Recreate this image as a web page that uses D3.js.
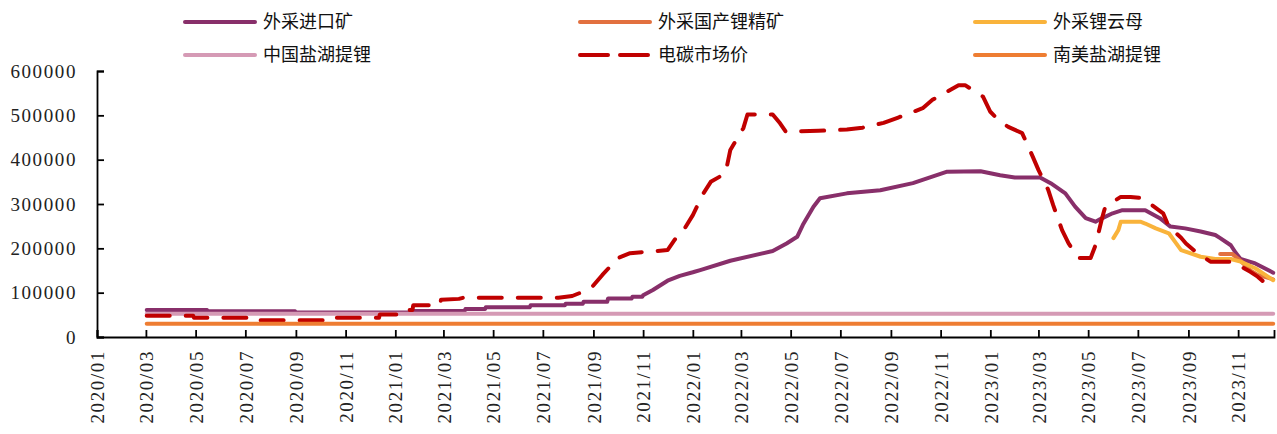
<!DOCTYPE html>
<html>
<head>
<meta charset="utf-8">
<script src="https://cdn.jsdelivr.net/npm/d3@7"></script>
<style>
  body { margin: 0; background: #fff; }
  .tick text { font-family: "Liberation Serif", "Times New Roman", serif; }
</style>
</head>
<body>
<svg id="chart" width="1277" height="434"></svg>
<script>
// series: [date, value]
const importOre = [
  ["2020-03-02", 61000], ["2020-05-15", 61000], ["2020-05-16", 58000], ["2020-08-31", 58000],
  ["2020-09-01", 55000], ["2021-01-21", 55000], ["2021-01-22", 58500], ["2021-03-27", 58500],
  ["2021-03-28", 63000], ["2021-04-21", 63000], ["2021-04-22", 67000], ["2021-06-15", 67000],
  ["2021-06-16", 71500], ["2021-07-28", 71500], ["2021-07-29", 75000], ["2021-08-19", 75000],
  ["2021-08-20", 79500], ["2021-09-18", 79500], ["2021-09-19", 87000], ["2021-10-18", 87000],
  ["2021-10-19", 91000], ["2021-10-31", 91000], ["2021-11-01", 94000], ["2021-11-13", 106000],
  ["2021-12-01", 127000], ["2021-12-16", 138000], ["2022-01-01", 146000], ["2022-01-10", 151000],
  ["2022-02-16", 172000], ["2022-04-09", 194000], ["2022-04-26", 211000], ["2022-05-09", 226000],
  ["2022-05-16", 253000], ["2022-05-29", 294000], ["2022-06-06", 313000], ["2022-07-09", 324000],
  ["2022-08-19", 331000], ["2022-09-28", 347000], ["2022-11-09", 373000], ["2022-12-20", 374000],
  ["2023-01-13", 365000], ["2023-01-31", 360000], ["2023-03-03", 360000], ["2023-03-16", 347000],
  ["2023-04-03", 324000], ["2023-04-15", 294000], ["2023-04-28", 268000], ["2023-05-10", 260000],
  ["2023-05-16", 266000], ["2023-05-31", 279000], ["2023-06-12", 286000], ["2023-07-10", 286000],
  ["2023-07-28", 268000], ["2023-08-10", 249000], ["2023-08-28", 245000], ["2023-09-16", 238000],
  ["2023-10-04", 230000], ["2023-10-10", 223000], ["2023-10-23", 207000], ["2023-10-29", 190000],
  ["2023-11-04", 176000], ["2023-11-22", 166000], ["2023-12-14", 145000]
];
const domesticOre = [
  ["2023-10-10", 187000], ["2023-10-25", 187000], ["2023-11-04", 172000], ["2023-11-16", 150000],
  ["2023-11-25", 140000], ["2023-12-14", 130000]
];
const lepidolite = [
  ["2023-06-01", 223000], ["2023-06-07", 241000], ["2023-06-10", 260000], ["2023-07-04", 260000],
  ["2023-07-10", 256000], ["2023-07-23", 245000], ["2023-08-08", 234000], ["2023-08-17", 211000],
  ["2023-08-23", 196000], ["2023-09-16", 181000], ["2023-10-04", 176000], ["2023-10-23", 176000],
  ["2023-11-04", 170000], ["2023-11-22", 155000], ["2023-12-14", 128000]
];
const chinaBrine = [["2020-03-02", 52500], ["2023-12-14", 52500]];
const spotPrice = [
  ["2020-03-02", 48000], ["2020-04-28", 48000], ["2020-04-29", 43500], ["2020-07-03", 43500],
  ["2020-07-04", 38000], ["2020-10-15", 38000], ["2020-10-16", 43500], ["2020-12-12", 43500],
  ["2020-12-13", 51000], ["2021-01-04", 51000], ["2021-01-07", 61000], ["2021-01-22", 61000],
  ["2021-01-23", 71500], ["2021-02-25", 71500], ["2021-02-26", 84000], ["2021-03-20", 86000],
  ["2021-03-25", 88500], ["2021-07-20", 88500], ["2021-08-06", 92500], ["2021-08-19", 102000],
  ["2021-08-30", 112000], ["2021-09-12", 140000], ["2021-10-01", 178000], ["2021-10-16", 189000],
  ["2021-12-01", 196000], ["2021-12-10", 220000], ["2021-12-22", 245000], ["2022-01-01", 275000],
  ["2022-01-14", 324000], ["2022-01-23", 350000], ["2022-02-10", 369000], ["2022-02-16", 422000],
  ["2022-03-04", 471000], ["2022-03-09", 502000], ["2022-04-09", 502000], ["2022-04-18", 482000],
  ["2022-04-25", 463000], ["2022-06-04", 465000], ["2022-07-09", 468000], ["2022-07-28", 472000],
  ["2022-08-23", 483000], ["2022-09-10", 495000], ["2022-10-10", 516000], ["2022-10-22", 535000],
  ["2022-11-23", 568000], ["2022-12-01", 568000], ["2022-12-23", 542000], ["2023-01-01", 508000],
  ["2023-01-13", 486000], ["2023-01-23", 474000], ["2023-02-09", 460000], ["2023-02-22", 407000],
  ["2023-03-01", 377000], ["2023-03-13", 332000], ["2023-03-19", 298000], ["2023-03-30", 241000],
  ["2023-04-07", 211000], ["2023-04-19", 178000], ["2023-05-04", 178000], ["2023-05-10", 207000],
  ["2023-05-18", 268000], ["2023-05-22", 294000], ["2023-06-10", 316000], ["2023-06-22", 316000],
  ["2023-07-07", 313000], ["2023-08-01", 279000], ["2023-08-08", 249000], ["2023-08-23", 224000],
  ["2023-08-29", 211000], ["2023-09-10", 192000], ["2023-09-28", 170000], ["2023-10-25", 170000],
  ["2023-11-16", 147000], ["2023-11-25", 136000], ["2023-12-14", 106000]
];
const saBrine = [["2020-03-02", 30000], ["2023-12-14", 30000]];

const seriesNames = ["外采进口矿", "外采国产锂精矿", "外采锂云母", "中国盐湖提锂", "电碳市场价", "南美盐湖提锂"];
const seriesColors = ["#882f6a", "#e2703f", "#f9b33b", "#d59ab5", "#c00000", "#ee7d32"];
const yTicks = [0, 100000, 200000, 300000, 400000, 500000, 600000];
const xTickLabels = [
  "2020/01", "2020/03", "2020/05", "2020/07", "2020/09", "2020/11",
  "2021/01", "2021/03", "2021/05", "2021/07", "2021/09", "2021/11",
  "2022/01", "2022/03", "2022/05", "2022/07", "2022/09", "2022/11",
  "2023/01", "2023/03", "2023/05", "2023/07", "2023/09", "2023/11"
];

const svg = d3.select("#chart");
const parseDay = d3.timeParse("%Y-%m-%d");
const parseMonth = d3.timeParse("%Y/%m");

const x = d3.scaleTime()
  .domain([new Date(2020, 0, 1), new Date(2023, 11, 15)])
  .range([97, 1274]);
const y = d3.scaleLinear()
  .domain([0, 600000])
  .range([337, 71]);

// axes
const yAxis = svg.append("g")
  .attr("transform", "translate(97,0)")
  .call(d3.axisLeft(y).tickValues(yTicks).tickSize(-7).tickPadding(20).tickFormat(d3.format("d")));
yAxis.selectAll("text")
  .attr("font-size", 19).attr("fill", "#222").attr("letter-spacing", "1.6px");

const xAxis = svg.append("g")
  .attr("transform", "translate(0,337)")
  .call(d3.axisBottom(x).tickValues(xTickLabels.map(parseMonth)).tickSize(-7).tickFormat(d3.timeFormat("%Y/%m")));
xAxis.selectAll("text")
  .attr("font-size", 19).attr("fill", "#222").attr("letter-spacing", "1.6px")
  .attr("transform", "rotate(-90)")
  .attr("text-anchor", "end")
  .attr("x", -13).attr("y", 0).attr("dy", "0.35em");

svg.selectAll(".domain, .tick line").attr("stroke", "#000").attr("stroke-width", 1.8);

// lines
const line = d3.line()
  .x(d => x(parseDay(d[0])))
  .y(d => y(d[1]));

const allSeries = [importOre, domesticOre, lepidolite, chinaBrine, spotPrice, saBrine];
allSeries.forEach((s, i) => {
  svg.append("path")
    .datum(s)
    .attr("d", line)
    .attr("fill", "none")
    .attr("stroke", seriesColors[i])
    .attr("stroke-width", 4)
    .attr("stroke-linejoin", "round")
    .attr("stroke-linecap", "round")
    .attr("stroke-dasharray", i === 4 ? "23,16" : null);
});

// legend
const legend = svg.append("g");
seriesNames.forEach((name, i) => {
  const lx = 185 + (i % 3) * 395;
  const ly = i < 3 ? 22 : 55;
  legend.append("line")
    .attr("x1", lx).attr("x2", lx + 70)
    .attr("y1", ly).attr("y2", ly)
    .attr("stroke", seriesColors[i])
    .attr("stroke-width", 4)
    .attr("stroke-linecap", "round")
    .attr("stroke-dasharray", i === 4 ? "28,12" : null);
  legend.append("text")
    .attr("x", lx + 78).attr("y", ly)
    .attr("dy", "0.36em")
    .attr("font-family", "'Noto Sans CJK SC', sans-serif")
    .attr("font-size", 18)
    .attr("fill", "#111")
    .text(name);
});
</script>
</body>
</html>
